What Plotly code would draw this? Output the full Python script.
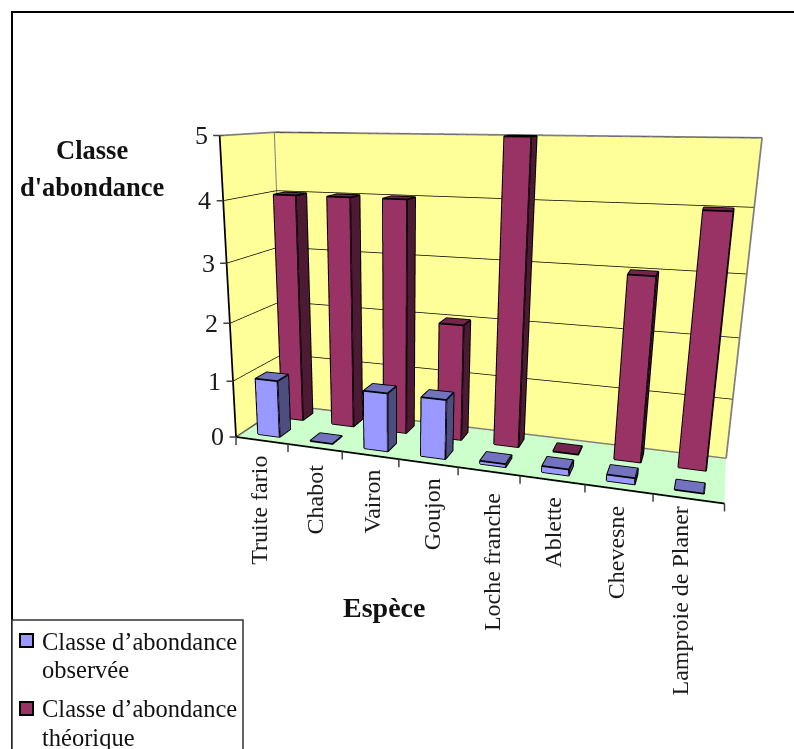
import plotly.graph_objects as go

categories = ["Truite fario", "Chabot", "Vairon", "Goujon", "Loche franche",
              "Ablette", "Chevesne", "Lamproie de Planer"]
observed = [1, 0, 1, 1, 0.05, 0.1, 0.1, 0]
theoretical = [4, 4, 4, 2, 5, 0, 3, 4]
z_ticks = [0, 1, 2, 3, 4, 5]
legend_labels = [["Classe d’abondance", "observée"], ["Classe d’abondance", "théorique"]]
y_title = ["Classe", "d'abondance"]
x_title = "Espèce"

# Pixel nudges applied to the category labels after projection
label_dx = [-3, 0, 2, 4, 4, 0, -3, -8]
label_dy = [4, 6, 3, 4, 11, 6, 6, -3]

BAR_HALF = 0.21
BLUE = ("#9999FF", "#7272BF", "#4D4D80")
MAROON = ("#993366", "#73264D", "#4D1A33")
SERIF = "Liberation Serif"
W, H = 794, 749


def bar_traces(values, y0, y1, cols):
    """One mesh for the faces of a series and one line trace for its outlines."""
    xs, ys, zs, ii, jj, kk, fc = [], [], [], [], [], [], []
    lx, ly, lz = [], [], []

    def quad(a, b, c, d, col):
        n = len(xs)
        for p in (a, b, c, d):
            xs.append(p[0]); ys.append(p[1]); zs.append(p[2])
        ii.extend([n, n]); jj.extend([n + 1, n + 2]); kk.extend([n + 2, n + 3]); fc.extend([col, col])

    def edge(*ps):
        for p in ps:
            lx.append(p[0]); ly.append(p[1]); lz.append(p[2])
        lx.append(None); ly.append(None); lz.append(None)

    for i, v in enumerate(values):
        a, b = i + 0.5 - BAR_HALF, i + 0.5 + BAR_HALF
        A0, B0, A1, B1 = (a, y0, 0), (b, y0, 0), (a, y1, 0), (b, y1, 0)
        At, Bt, Ct, Dt = (a, y0, v), (b, y0, v), (a, y1, v), (b, y1, v)
        if v > 0:
            quad(A0, B0, Bt, At, cols[0])
            quad(B0, B1, Dt, Bt, cols[2])
            edge(A0, B0, B1, Dt, Ct, At, A0)
            edge(At, Bt, Dt)
            edge(B0, Bt)
        else:
            edge(A0, B0, B1, A1, A0)
        quad(At, Bt, Dt, Ct, cols[1])
    mesh = go.Mesh3d(x=xs, y=ys, z=zs, i=ii, j=jj, k=kk, facecolor=fc, flatshading=True,
                     lighting=dict(ambient=1, diffuse=0, specular=0, fresnel=0), hoverinfo="skip")
    line = go.Scatter3d(x=lx, y=ly, z=lz, mode="lines", line=dict(color="black", width=3.5), hoverinfo="skip")
    return [mesh, line]


fig = go.Figure()
fig.add_traces(bar_traces(theoretical, 0.64, 0.86, MAROON))
fig.add_traces(bar_traces(observed, 0.14, 0.36, BLUE))

# Wall and floor outlines
n_cat = len(categories)
z_top = z_ticks[-1]
fig.add_trace(go.Scatter3d(x=[0, 0, 0, n_cat, n_cat, None, 0, 0, 0, n_cat, None, 0, 0],
                           y=[0, 0, 1, 1, 1, None, 0, 1, 1, 1, None, 1, 1],
                           z=[z_top, z_top, z_top, z_top, 0, None, 0, 0, 0, 0, None, 0, z_top],
                           mode="lines", line=dict(color="#808080", width=3.5), hoverinfo="skip"))
fig.add_trace(go.Scatter3d(x=[0, 0, None, 0, n_cat], y=[0, 0, None, 0, 0], z=[0, z_top, None, 0, 0],
                           mode="lines", line=dict(color="black", width=3.5), hoverinfo="skip"))

# Tick labels and tick marks, anchored in data coordinates
tick_style = dict(text=" ", showarrow=True, arrowhead=0, arrowwidth=1.5, arrowcolor="#404040",
                  standoff=0, font=dict(size=1))
annots = []
for t in z_ticks:
    annots.append(dict(x=0, y=0, z=t, text=str(t), showarrow=False, xanchor="right", xshift=-10,
                       font=dict(family=SERIF, size=26, color="#1a1a1a")))
    annots.append(dict(tick_style, x=0, y=0, z=t, ax=-8, ay=0))
for i, c in enumerate(categories):
    annots.append(dict(x=i + 0.5, y=0, z=0, text=c, showarrow=False, textangle=-90, yanchor="top",
                       xshift=label_dx[i], yshift=-9 - label_dy[i],
                       font=dict(family=SERIF, size=24, color="#1a1a1a")))
for i in range(n_cat + 1):
    annots.append(dict(tick_style, x=i, y=0, z=0, ax=0, ay=10))

hidden = dict(showgrid=False, zeroline=False, showline=False, showspikes=False, title="",
              showticklabels=False, ticks="")
scene = dict(
    domain=dict(x=[0, 1], y=[0, 1]),
    aspectmode="manual",
    aspectratio=dict(x=1, y=0.2322, z=0.6342),
    camera=dict(eye=dict(x=0.4541, y=-1.7253, z=0.3767), center=dict(x=-0.1376, y=-0.0925, z=-0.143),
                up=dict(x=-0.0039, y=-0.0121, z=1), projection=dict(type="perspective")),
    xaxis=dict(hidden, range=[0, n_cat], showbackground=True, backgroundcolor="#FFFF99"),
    yaxis=dict(hidden, range=[0, 1], showbackground=True, backgroundcolor="#FFFF99"),
    zaxis=dict(hidden, range=[-0.02, z_top], showbackground=True, backgroundcolor="#CCFFCC",
               showgrid=True, gridcolor="black", gridwidth=1.5, tickvals=z_ticks),
    annotations=annots,
)


def px_x(v):
    return v / W


def px_y(v):
    return 1 - v / H


def paper_text(x, y, text, size, anchor="center"):
    return dict(xref="paper", yref="paper", x=px_x(x), y=px_y(y), text=text, showarrow=False, xanchor=anchor,
                yanchor="middle", font=dict(family=SERIF, size=size, color="#111111"))


shapes = [
    dict(type="rect", xref="paper", yref="paper", x0=px_x(12), x1=px_x(800), y0=px_y(760), y1=px_y(12),
         line=dict(color="black", width=2)),
    dict(type="rect", xref="paper", yref="paper", x0=px_x(12), x1=px_x(243), y0=px_y(760), y1=px_y(620),
         line=dict(color="#333333", width=1.5), fillcolor="white"),
]
for top, col in ((634, BLUE[0]), (702, MAROON[0])):
    shapes.append(dict(type="rect", xref="paper", yref="paper", x0=px_x(20), x1=px_x(33), y0=px_y(top + 13),
                       y1=px_y(top), line=dict(color="black", width=2), fillcolor=col))

annotations = [
    paper_text(92, 150, f"<b>{y_title[0]}</b>", 26.5),
    paper_text(92, 187, f"<b>{y_title[1]}</b>", 26.5),
    paper_text(384, 607, f"<b>{x_title}</b>", 28),
    paper_text(40, 641, legend_labels[0][0], 24.5, "left"),
    paper_text(40, 669, legend_labels[0][1], 24.5, "left"),
    paper_text(40, 708, legend_labels[1][0], 24.5, "left"),
    paper_text(40, 737, legend_labels[1][1], 24.5, "left"),
]

fig.update_layout(width=W, height=H, margin=dict(l=0, r=0, t=0, b=0), showlegend=False, paper_bgcolor="white",
                  scene=scene, shapes=shapes, annotations=annotations)
fig.write_html("out.html")
